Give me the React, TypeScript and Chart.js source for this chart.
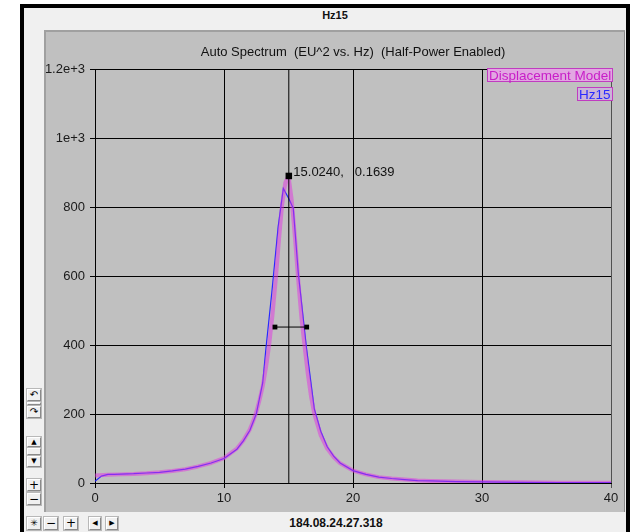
import React, { useEffect, useRef } from 'react';
import { Chart, registerables } from 'chart.js';

Chart.register(...registerables);

// ---------- data ----------
const MODEL_FREQ = [0, 1, 2, 3, 4, 5, 6, 7, 8, 9, 10, 11, 11.5, 12, 12.25, 12.5, 12.75, 13, 13.25, 13.5, 13.75, 14, 14.25, 14.5, 14.75, 15, 15.25, 15.5, 15.75, 16, 16.25, 16.5, 16.75, 17, 17.5, 18, 18.5, 19, 20, 21, 22, 23, 24, 25, 26, 28, 30, 33, 36, 40];
const MODEL_VALUES = [22, 24, 25, 26, 28, 31, 35, 40, 48, 58, 72, 100, 123, 155, 178, 205, 240, 280, 334, 400, 485, 585, 700, 805, 870, 890, 820, 712, 590, 480, 395, 315, 250, 200, 138, 100, 75, 57, 36, 25, 17, 13, 10, 7, 6, 4, 3, 2, 1, 1];

const MEAS_FREQ = [0, 0.5, 1, 1.5, 2, 3, 4, 5, 6, 7, 8, 9, 10, 11, 11.5, 12, 12.5, 13, 13.25, 13.7, 14.2, 14.6, 15.06, 15.37, 15.76, 16.4, 17, 17.5, 18, 18.5, 19, 20, 21, 22, 23, 24, 25, 26, 28, 30, 33, 36, 40];
const MEAS_VALUES = [5, 20, 25, 25, 26, 27, 29, 31, 35, 40, 48, 58, 71, 98, 122, 152, 200, 290, 390, 550, 743, 854, 822, 796, 608, 390, 215, 150, 105, 78, 58, 36, 25, 17, 13, 10, 7, 6, 4, 3, 2, 1, 1];

const X_TICKS = [0, 10, 20, 30, 40];
const X_TICK_LABELS = ['0', '10', '20', '30', '40'];
const Y_TICKS = [0, 200, 400, 600, 800, 1000, 1200];
const Y_TICK_LABELS = ['0', '200', '400', '600', '800', '1e+3', '1.2e+3'];

const PEAK = { x: 15.024, y: 890 };
const PEAK_LABEL = ['15.0240,', '0.1639'];
const HALF_POWER_X = [13.95, 16.41];
const HALF_POWER_Y = 452;

const LEGEND = ['Displacement Model', 'Hz15'];
const TITLE = 'Auto Spectrum  (EU^2 vs. Hz)  (Half-Power Enabled)';
const HEADER = 'Hz15';
const FOOTER = '184.08.24.27.318';

// ---------- styles ----------
const FONT = '"Liberation Sans", Arial, sans-serif';
const LEGEND_FILL = ['#e2a6e2', '#cbb4d8'];
const LEGEND_TEXT = ['#c81ec8', '#2a2aff'];
const LEGEND_BORDER = '#c03cc0';

function Btn(props: { l: number; t: number; w: number; h: number; g: string; fs?: number }) {
  const { l, t, w, h, g, fs } = props;
  return (
    <div
      style={{
        position: 'absolute',
        left: l,
        top: t,
        width: w,
        height: h,
        boxSizing: 'border-box',
        background: '#f0f0f0',
        borderTop: '1px solid #ffffff',
        borderLeft: '1px solid #ffffff',
        borderRight: '1px solid #8a8a8a',
        borderBottom: '1px solid #8a8a8a',
        outline: '1px solid #b8b8b8',
        fontFamily: '"DejaVu Sans", sans-serif',
        fontSize: fs ?? 10,
        lineHeight: h - 2 + 'px',
        textAlign: 'center',
        color: '#000',
        overflow: 'hidden',
      }}
    >
      {g}
    </div>
  );
}

export default function App() {
  const ref = useRef<HTMLCanvasElement>(null);

  useEffect(() => {
    const canvas = ref.current;
    if (!canvas) return;
    const pts = (xs: number[], ys: number[]) => xs.map((x, i) => ({ x, y: ys[i] }));
    const tickFont = { family: FONT, size: 13 };

    const annot = {
      id: 'annot',
      afterDraw(chart: any) {
        const ctx = chart.ctx as CanvasRenderingContext2D;
        const a = chart.chartArea;
        const xs = chart.scales.x;
        const ys = chart.scales.y;
        ctx.save();
        ctx.textBaseline = 'alphabetic';
        // title
        ctx.font = '13px ' + FONT;
        ctx.fillStyle = '#111';
        ctx.textAlign = 'center';
        ctx.fillText(TITLE, (a.left + a.right) / 2, a.top - 13);
        // cursor label
        const px = xs.getPixelForValue(PEAK.x);
        const py = ys.getPixelForValue(PEAK.y);
        ctx.font = '13px ' + FONT;
        ctx.textAlign = 'left';
        ctx.fillStyle = '#111';
        ctx.fillText(PEAK_LABEL[0], px + 4.5, py + 0.5);
        ctx.fillText(PEAK_LABEL[1], px + 66, py + 0.5);
        // legend boxes
        ctx.font = '13.5px ' + FONT;
        let top = a.top - 1.5;
        LEGEND.forEach((t, i) => {
          const w = Math.round(ctx.measureText(t).width + 4);
          const r = Math.round(a.right + 2);
          const l = r - w;
          const tt = Math.round(top);
          ctx.fillStyle = LEGEND_FILL[i];
          ctx.fillRect(l, tt, w, 14);
          ctx.strokeStyle = LEGEND_BORDER;
          ctx.lineWidth = 1;
          ctx.strokeRect(l + 0.5, tt + 0.5, w - 1, 13);
          ctx.fillStyle = LEGEND_TEXT[i];
          ctx.fillText(t, l + 2, tt + 11.5);
          top += 19;
        });
        ctx.restore();
      },
    };

    const chart = new Chart(canvas, {
      type: 'scatter',
      data: {
        datasets: [
          {
            label: 'cursor',
            data: [{ x: PEAK.x, y: Y_TICKS[0] }, { x: PEAK.x, y: Y_TICKS[Y_TICKS.length - 1] }],
            showLine: true,
            borderColor: '#000',
            borderWidth: 1,
            pointRadius: 0,
            order: 0,
          },
          {
            label: 'peak',
            data: [PEAK],
            pointStyle: 'rect',
            pointRadius: 4.6,
            backgroundColor: '#000',
            borderColor: '#000',
            pointBorderWidth: 0,
            order: 0,
          },
          {
            label: 'half-power',
            data: HALF_POWER_X.map((x) => ({ x, y: HALF_POWER_Y })),
            showLine: true,
            borderColor: '#000',
            borderWidth: 1,
            pointStyle: 'rect',
            pointRadius: 3.4,
            backgroundColor: '#000',
            pointBorderWidth: 0,
            order: 0,
          },
          {
            label: LEGEND[0],
            data: pts(MODEL_FREQ, MODEL_VALUES),
            showLine: true,
            borderColor: 'rgba(225,50,225,0.5)',
            borderWidth: 4,
            borderJoinStyle: 'round',
            pointRadius: 0,
            order: 1,
          },
          {
            label: LEGEND[1],
            data: pts(MEAS_FREQ, MEAS_VALUES),
            showLine: true,
            borderColor: '#2828ff',
            borderWidth: 1.2,
            pointRadius: 0,
            order: 2,
          },
        ],
      },
      options: {
        animation: false,
        responsive: false,
        devicePixelRatio: 1,
        events: [],
        layout: { padding: { top: 69, right: 19, left: 0, bottom: 0 } },
        plugins: {
          legend: { display: false },
          tooltip: { enabled: false },
          title: { display: false },
        },
        scales: {
          x: {
            type: 'linear',
            min: X_TICKS[0],
            max: X_TICKS[X_TICKS.length - 1],
            afterBuildTicks: (s: any) => {
              s.ticks = X_TICKS.map((v) => ({ value: v }));
            },
            afterFit: (s: any) => {
              s.height = 49;
            },
            grid: {
              color: (c: any) => (c.tick && c.tick.value === 40 ? '#505050' : '#000'),
              lineWidth: 1,
              tickLength: 5,
            },
            border: { color: '#000', width: 1 },
            ticks: {
              font: tickFont,
              color: '#1a1a1a',
              padding: 3,
              maxRotation: 0,
              autoSkip: false,
              callback: (_v: any, i: number) => X_TICK_LABELS[i],
            },
          },
          y: {
            type: 'linear',
            min: Y_TICKS[0],
            max: Y_TICKS[Y_TICKS.length - 1],
            afterBuildTicks: (s: any) => {
              s.ticks = Y_TICKS.map((v) => ({ value: v }));
            },
            afterFit: (s: any) => {
              s.width = 95;
            },
            grid: { color: '#000', lineWidth: 1, tickLength: 5 },
            border: { color: '#000', width: 1 },
            ticks: {
              font: tickFont,
              color: '#1a1a1a',
              padding: 5,
              autoSkip: false,
              callback: (_v: any, i: number) => Y_TICK_LABELS[i],
            },
          },
        },
      } as any,
      plugins: [annot],
    });
    return () => chart.destroy();
  }, []);

  return (
    <div
      style={{
        position: 'absolute',
        left: 0,
        top: 0,
        width: 630,
        height: 532,
        background: '#ffffff',
        overflow: 'hidden',
        fontFamily: FONT,
      }}
    >
      <div style={{ position: 'absolute', left: 20, top: 4, width: 610, height: 540, background: '#000' }} />
      <div style={{ position: 'absolute', left: 24, top: 8, width: 602, height: 540, background: '#f0f0f0' }} />
      <div
        style={{
          position: 'absolute',
          left: 44,
          top: 30,
          width: 581,
          height: 482,
          boxSizing: 'border-box',
          background: '#c0c0c0',
          borderTop: '2px solid #a0a0a0',
          borderLeft: '2px solid #a0a0a0',
          borderRight: '1px solid #8a8a8a',
        }}
      />
      <div
        style={{
          position: 'absolute',
          left: 285,
          width: 100,
          top: 10,
          textAlign: 'center',
          fontWeight: 'bold',
          fontSize: 11,
          lineHeight: '11px',
          color: '#111',
        }}
      >
        {HEADER}
      </div>
      <div
        style={{
          position: 'absolute',
          left: 236,
          width: 200,
          top: 517,
          textAlign: 'center',
          fontWeight: 'bold',
          fontSize: 12,
          lineHeight: '12px',
          color: '#111',
        }}
      >
        {FOOTER}
      </div>
      {/* left button column */}
      <Btn l={27} t={389} w={14} h={12} g="↶" />
      <Btn l={27} t={402} w={14} h={3} g="" />
      <Btn l={27} t={406} w={14} h={12} g="↷" />
      <Btn l={27} t={437} w={14} h={10} g="▲" fs={7} />
      <Btn l={27} t={448} w={14} h={7} g="" />
      <Btn l={27} t={456} w={14} h={11} g="▼" fs={7} />
      <Btn l={27} t={479} w={14} h={12} g="+" fs={12} />
      <Btn l={27} t={493} w={14} h={12} g="−" fs={12} />
      {/* bottom button row */}
      <Btn l={27} t={517} w={14} h={13} g="✳" fs={9} />
      <Btn l={44} t={517} w={14} h={13} g="−" fs={12} />
      <Btn l={64} t={517} w={14} h={13} g="+" fs={12} />
      <Btn l={89} t={517} w={12} h={13} g="◀" fs={7} />
      <Btn l={106} t={517} w={12} h={13} g="▶" fs={7} />
      <canvas
        ref={ref}
        width={630}
        height={532}
        style={{ position: 'absolute', left: 0, top: 0, width: 630, height: 532, display: 'block' }}
      />
    </div>
  );
}
